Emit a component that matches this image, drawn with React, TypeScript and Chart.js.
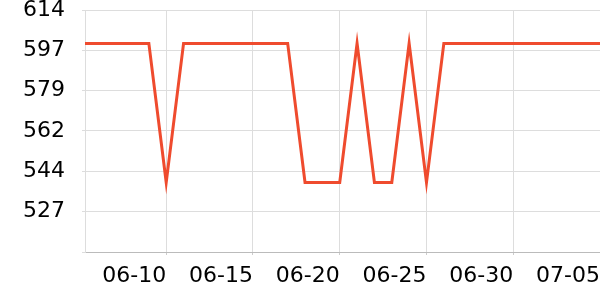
import React, { useEffect, useRef } from "react";
import { Chart, registerables } from "chart.js";

Chart.register(...registerables);

const dates = [
  "06-05", "06-06", "06-07", "06-08", "06-09", "06-10", "06-11", "06-12",
  "06-13", "06-14", "06-15", "06-16", "06-17", "06-18", "06-19", "06-20",
  "06-21", "06-22", "06-23", "06-24", "06-25", "06-26", "06-27", "06-28",
  "06-29", "06-30", "07-01", "07-02", "07-03", "07-04", "07-05",
];
const values = [
  600, 600, 600, 600, 600, 540, 600, 600, 600, 600, 600, 600, 600, 540, 540, 540,
  600, 540, 540, 600, 540, 600, 600, 600, 600, 600, 600, 600, 600, 600, 600,
];
const xTickLabels = ["06-10", "06-15", "06-20", "06-25", "06-30", "07-05"];
const yTickValues = [510, 527.4, 544.8, 562.2, 579.6, 597, 614.4];
const yTickLabels = ["", "527", "544", "562", "579", "597", "614"];

const FONT = "'DejaVu Sans', sans-serif";

export default function App() {
  const ref = useRef<HTMLCanvasElement | null>(null);
  useEffect(() => {
    if (!ref.current) return;
    const xTickIdx = xTickLabels.map((l) => dates.indexOf(l));
    const chart = new Chart(ref.current, {
      type: "line",
      data: {
        datasets: [
          {
            data: values.map((v, i) => ({ x: i, y: v })),
            borderColor: "#ef4b2e",
            borderWidth: 3,
            pointRadius: 0,
            pointHoverRadius: 0,
            tension: 0,
            fill: false,
          },
        ],
      },
      options: {
        animation: false,
        responsive: false,
        devicePixelRatio: 1,
        layout: { autoPadding: false, padding: { top: 10, right: 0, left: 0, bottom: 0 } },
        plugins: { legend: { display: false }, tooltip: { enabled: false } },
        scales: {
          x: {
            type: "linear",
            min: 0.32,
            max: dates.length - 1,
            afterBuildTicks: (axis: any) => {
              axis.ticks = xTickIdx.map((v) => ({ value: v }));
            },
            afterFit: (axis: any) => {
              axis.height = 48;
              axis.paddingRight = 0;
              axis.paddingLeft = 0;
            },
            ticks: {
              align: "end",
              padding: 8,
              maxRotation: 0,
              autoSkip: false,
              color: "#000",
              font: { family: FONT, size: 22 },
              callback: (v: any) => dates[Math.round(v)] ?? "",
            },
            grid: { color: "#dddddd", tickLength: 3, tickColor: "#cccccc" },
            border: { color: "#bbbbbb" },
          },
          y: {
            type: "linear",
            min: yTickValues[0],
            max: yTickValues[yTickValues.length - 1],
            afterBuildTicks: (axis: any) => {
              axis.ticks = yTickValues.map((v) => ({ value: v }));
            },
            afterFit: (axis: any) => {
              axis.width = 85;
              axis.paddingTop = 0;
              axis.paddingBottom = 0;
            },
            ticks: {
              padding: 17,
              color: "#000",
              font: { family: FONT, size: 22, lineHeight: 0.8 },
              callback: (v: any) => {
                const i = yTickValues.indexOf(v);
                return i >= 0 ? yTickLabels[i] : "";
              },
            },
            grid: { color: "#dddddd", tickLength: 3 },
            border: { color: "#dddddd" },
          },
        },
      },
    });
    return () => chart.destroy();
  }, []);
  return (
    <div style={{ position: "absolute", left: 0, top: 0, width: 600, height: 300, background: "#fff" }}>
      <canvas ref={ref} width={600} height={300} />
    </div>
  );
}
